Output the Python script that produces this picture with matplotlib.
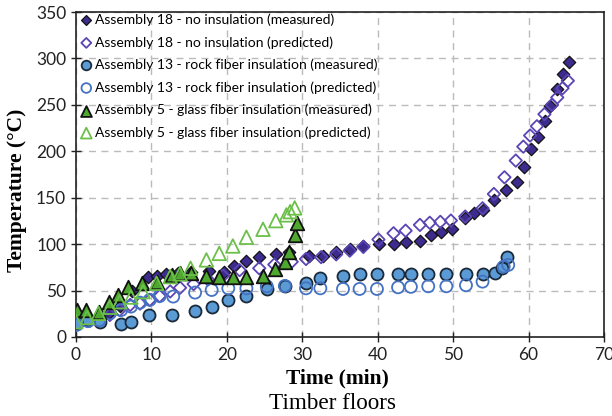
import matplotlib.pyplot as plt

# Assembly 18 - no insulation
a18_meas_t = [0, 1.5, 3, 4.4, 5.8, 7.5, 9.6, 10.8, 12, 13.5, 15.3, 17.7, 19.6, 21, 22.6, 24.3, 26.5, 28.2,
              30.9, 32.7, 34.5, 36.3, 38.1, 40.2, 42.1, 43.8, 45.6, 47.1, 48.4, 49.8, 51.6, 52.7, 53.9,
              55.4, 57, 58.4, 59.4, 60.3, 61.2, 62.2, 62.9, 63.7, 64.5, 65.3]
a18_meas_T = [20, 21, 23, 26, 33, 50, 65, 66, 68, 69, 70, 71.5, 70, 76, 81.5, 86.6, 89.4, 91.6,
              87.3, 87, 92, 94.5, 98.4, 99.9, 100.6, 102.4, 103.8, 109.6, 113, 116.7, 128, 134, 137,
              147.6, 158.4, 166.7, 183.5, 202.6, 215.8, 232.8, 249, 267, 283, 296.7]
a18_pred_t = [0.3, 1.9, 3.2, 4.5, 5.8, 7.2, 8.5, 9.8, 11.1, 12.5, 13.8, 15.6, 17.5, 19.5, 21.7, 24.3,
              26.3, 28.6, 30.5, 32.5, 34.5, 36.3, 38.1, 40.1, 42.1, 43.7, 45.6, 46.9, 48.3, 49.7, 51.6,
              53.9, 55.4, 56.8, 58.3, 59.3, 60.2, 61.1, 62.1, 63.1, 63.8, 64.5, 65.2]
a18_pred_T = [14.8, 17.6, 20, 23.7, 29, 34.5, 36, 40, 44, 49, 53, 57, 62, 66, 72, 74,
              78, 81, 84, 86, 89, 93, 97, 105, 111.7, 114.5, 120.7, 123, 124, 125.4, 129.7,
              138.6, 154, 172, 190, 205, 217, 227, 240, 250, 258, 268, 276]

# Assembly 13 - rock fiber insulation
a13_meas_t = [0.1, 1.6, 3.2, 6, 7.3, 9.7, 12.8, 15.8, 18, 20.2, 22.6, 25.3, 27.7, 30.5, 32.4, 35.4,
              37.6, 39.9, 42.7, 44.4, 46.7, 49.1, 51.7, 53.9, 55.6, 56.5, 57.1]
a13_meas_T = [15.4, 18, 16.5, 14, 16, 23.7, 23.7, 28, 32.7, 39.9, 44.5, 51.3, 55, 58.5, 63.2, 65.7,
              67.9, 67.9, 67.9, 67.9, 67.9, 67.9, 67.9, 67.9, 68.6, 74, 86.5]
a13_pred_t = [0.1, 1.6, 3.1, 4.5, 6, 7.3, 8.5, 9.8, 11.1, 12.9, 15.8, 18, 20.2, 22.6, 25.3, 27.7,
              30.5, 32.4, 35.4, 37.6, 39.9, 42.7, 44.4, 46.7, 49.1, 51.7, 53.9, 56.7, 57.3]
a13_pred_T = [13, 17, 18, 25.5, 29, 32.7, 37, 40, 44, 43.5, 47.8, 50.6, 52.4, 52.4, 54.6, 55,
              52.4, 52.4, 51.7, 51.7, 51.7, 53.5, 54, 54.6, 54.6, 55.7, 59.6, 75.8, 77.6]

# Assembly 5 - glass fiber insulation
a5_meas_t = [0.1, 1.4, 3.1, 4.4, 5.6, 6.9, 8.7, 10.7, 12.7, 13.8, 15.3, 17.3, 19, 20.8, 22.6, 24.8,
             26.4, 27.7, 28.2, 29, 29.3]
a5_meas_T = [29, 29, 27.4, 38, 45, 54, 58.5, 59.6, 66.8, 68.6, 69.3, 65.7, 65, 65, 65, 65.7,
             72.9, 81, 92, 110, 123]
a5_pred_t = [0, 1.5, 3, 4.5, 5.8, 7.3, 8.9, 10.7, 12.5, 13.8, 15.2, 17.3, 19, 20.8, 22.6, 24.8,
             26.5, 27.9, 28.4, 29]
a5_pred_T = [16.5, 21, 25.5, 32, 38, 43, 48.8, 57.8, 65, 68, 74, 83, 90, 98, 107.4, 116,
             125.3, 131.5, 135, 139]

fig = plt.figure(figsize=(6.12, 4.16), dpi=100)
ax = fig.add_axes([0.124, 0.19, 0.863, 0.781])

ax.scatter(a18_meas_t, a18_meas_T, marker="D", s=40, color="#3d2b8e", edgecolors="#111111",
           linewidths=0.9, label="Assembly 18 - no insulation (measured)", zorder=3)
ax.scatter(a18_pred_t, a18_pred_T, marker="D", s=40, facecolors="none", edgecolors="#5b45b5",
           linewidths=1.3, label="Assembly 18 - no insulation (predicted)", zorder=3)
ax.scatter(a13_meas_t, a13_meas_T, marker="o", s=75, color="#5b9bd5", edgecolors="#1b2a3a",
           linewidths=1.3, label="Assembly 13 - rock fiber insulation (measured)", zorder=3)
ax.scatter(a13_pred_t, a13_pred_T, marker="o", s=75, facecolors="none", edgecolors="#4472c4",
           linewidths=1.3, label="Assembly 13 - rock fiber insulation (predicted)", zorder=3)
ax.scatter(a5_meas_t, a5_meas_T, marker="^", s=95, color="#4ea72e", edgecolors="#111111",
           linewidths=1.3, label="Assembly 5 - glass fiber insulation (measured)", zorder=3)
ax.scatter(a5_pred_t, a5_pred_T, marker="^", s=95, facecolors="none", edgecolors="#6cc04a",
           linewidths=1.3, label="Assembly 5 - glass fiber insulation (predicted)", zorder=3)

ax.set_xlim(0, 70)
ax.set_ylim(0, 350)
ax.set_xticks(range(0, 71, 10))
ax.set_yticks(range(0, 351, 50))
ax.grid(True, linestyle=(0, (5, 4)), color="#bbbbbb", linewidth=1.0)
ax.set_axisbelow(True)
for s in ax.spines.values():
    s.set_color("#222222")
    s.set_linewidth(1.2)
ax.tick_params(direction="inout", length=7, width=1.0, labelsize=12.5, colors="#222222")
ax.tick_params(axis="x", pad=4)
for lab in ax.get_xticklabels() + ax.get_yticklabels():
    lab.set_family("Lato")

ax.set_xlabel("Time (min)", family="Liberation Serif", fontweight="bold", fontsize=15.5)
ax.xaxis.set_label_coords(0.495, -0.098)
ax.set_ylabel("Temperature (°C)", family="Liberation Serif", fontweight="bold", fontsize=15.5)
ax.yaxis.set_label_coords(-0.092, 0.45)

leg = ax.legend(loc="upper left", frameon=False, prop={"family": "Lato", "size": 10},
                handletextpad=0.0, labelspacing=0.72, borderaxespad=0.0, handlelength=1.3,
                borderpad=0.1, markerscale=0.8)

fig.text(0.544, 0.029, "Timber floors", family="Liberation Serif", fontsize=16.7,
         ha="center", va="center")

fig.savefig("out.png", dpi=100)
